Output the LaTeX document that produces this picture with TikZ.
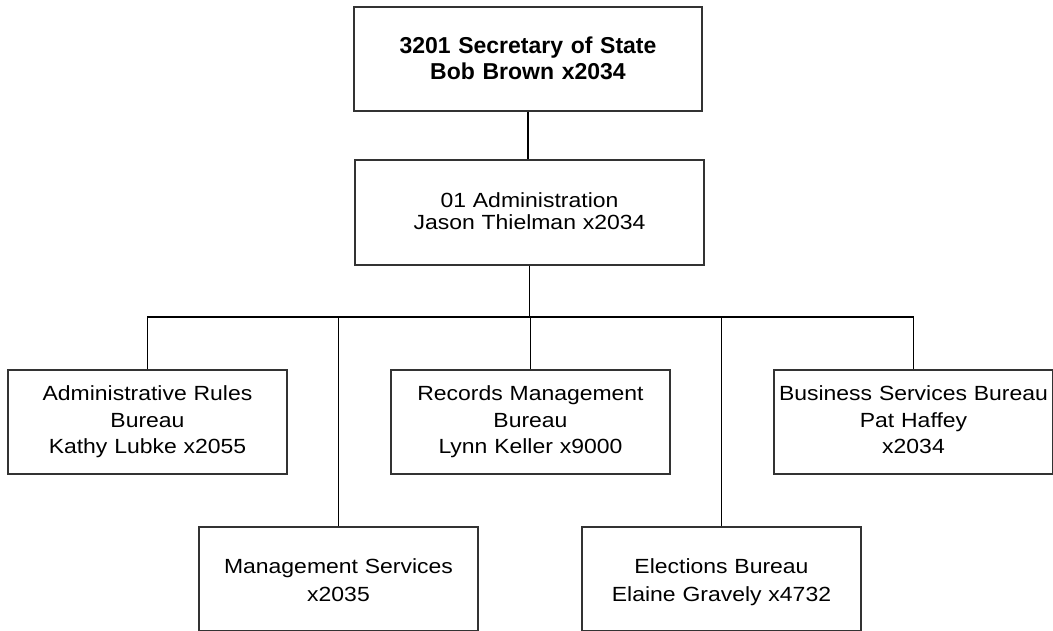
\documentclass[tikz,border=0pt]{standalone}
\usepackage{fontspec}
\setmainfont{Liberation Sans}
\newfontfamily\regfont[FakeStretch=1.12]{Liberation Sans}
\begin{document}
\begin{tikzpicture}[x=1pt,y=-1pt,
  orgbox/.style={draw=black!80, line width=1.1pt, fill=white, inner sep=0pt,
    align=center, text height=0pt},
  toptext/.style={font=\bfseries\fontsize{23}{26.7}\selectfont},
  regtext/.style={font=\regfont\fontsize{20.5}{22.2}\selectfont},
  conn/.style={draw=black, line width=1.1pt},
  trunk/.style={draw=black, line width=1.8pt}]
\useasboundingbox[fill=white] (0,0) rectangle (1053,631);

\node[orgbox, toptext, minimum width=348pt, minimum height=104pt, text width=348pt, text depth=11.4pt]
  (top) at (528,59) {3201 Secretary of State\\Bob Brown x2034};
\node[orgbox, regtext, minimum width=349pt, minimum height=105pt, text width=349pt, text depth=10.4pt]
  (adm) at (529.5,212.5) {01 Administration\\Jason Thielman x2034};

\tikzset{rowone/.style={orgbox, regtext, font=\regfont\fontsize{20.5}{26.3}\selectfont,
    minimum width=279pt, minimum height=104pt, text width=279pt, text depth=42.6pt},
  rowtwo/.style={orgbox, regtext, font=\regfont\fontsize{20.5}{28.5}\selectfont,
    minimum width=279pt, minimum height=104pt, text width=279pt, text depth=12pt}}

\node[rowone] (ar)  at (147.5,422) {Administrative Rules\\Bureau\\Kathy Lubke x2055};
\node[rowone] (rec) at (530.5,422) {Records Management\\Bureau\\Lynn Keller x9000};
\node[rowone] (biz) at (913.5,422) {Business Services Bureau\\Pat Haffey\\x2034};
\node[rowtwo] (mg)  at (338.5,579) {Management Services\\x2035};
\node[rowtwo] (el)  at (721.5,579) {Elections Bureau\\Elaine Gravely x4732};

\coordinate (bus) at (0,317);

\draw[conn] (top.south) -- (top.south |- adm.north);
\draw[trunk] (adm.south) -- (adm.south |- bus);
\draw[conn] (ar.north) -- (ar.north |- bus) -- (biz.north |- bus) -- (biz.north);
\draw[conn] (mg.north) -- (mg.north |- bus);
\draw[conn] (rec.north) -- (rec.north |- bus);
\draw[conn] (el.north) -- (el.north |- bus);
\end{tikzpicture}
\end{document}
